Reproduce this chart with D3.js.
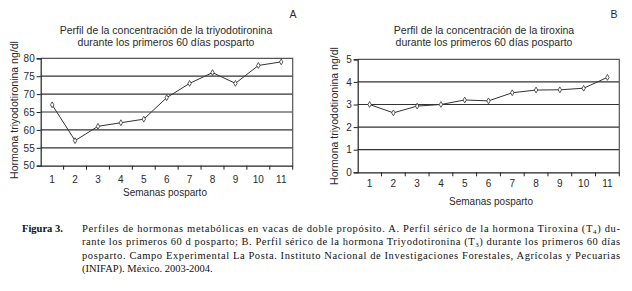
<!DOCTYPE html>
<html><head><meta charset="utf-8">
<script src="https://cdn.jsdelivr.net/npm/d3@7"></script>
<style>body{margin:0;background:#fff}svg{display:block}</style>
</head><body>
<svg id="c" width="632" height="291"></svg>
<script>
const weeks = ["1","2","3","4","5","6","7","8","9","10","11"];
const t3Values = [67, 57, 61, 62, 63, 69, 73, 76, 73, 78, 79];
const t4Values = [3.0, 2.63, 2.93, 3.0, 3.2, 3.16, 3.52, 3.64, 3.65, 3.72, 4.2];
const t3Ticks = [50, 55, 60, 65, 70, 75, 80];
const t4Ticks = [0, 1, 2, 3, 4, 5];

const svg = d3.select("#c");
const FONT = "'Liberation Sans', Arial, sans-serif";
const SERIF = "'Liberation Serif', 'Times New Roman', serif";
const TXT = "#2a2a2a";

function panel(o) {
  const g = svg.append("g");
  const x = d3.scaleBand().domain(weeks).range([o.left, o.right]);
  const y = d3.scaleLinear().domain(o.domain).range([o.bottom, o.top]);
  // gridlines
  g.selectAll("line.grid").data(o.ticks.slice(1, -1)).join("line")
    .attr("x1", o.left).attr("x2", o.right)
    .attr("y1", d => y(d)).attr("y2", d => y(d))
    .attr("stroke", "#333").attr("stroke-width", 1.2);
  // border top/right
  g.append("path").attr("d", `M${o.left},${o.top}H${o.right}V${o.bottom}`)
    .attr("fill", "none").attr("stroke", "#555").attr("stroke-width", 1.2);
  // y axis
  const ya = g.append("g").attr("transform", `translate(${o.left},0)`)
    .call(d3.axisLeft(y).tickValues(o.ticks).tickSize(4).tickPadding(2).tickFormat(d3.format("d")));
  ya.select(".domain").attr("stroke", "#222").attr("stroke-width", 1.2);
  ya.selectAll(".tick line").attr("stroke", "#222");
  ya.selectAll("text").attr("font-family", FONT).attr("font-size", 10).attr("fill", TXT);
  // x axis
  const xa = g.append("g").attr("transform", `translate(0,${o.bottom})`)
    .call(d3.axisBottom(x).tickSize(0).tickPadding(o.xpad));
  xa.select(".domain").attr("stroke", "#222").attr("stroke-width", 1.2);
  xa.selectAll("text").attr("font-family", FONT).attr("font-size", 10).attr("fill", TXT);
  // tick marks at band boundaries
  const bounds = weeks.slice(1).map(w => x(w));
  bounds.push(o.right);
  g.selectAll("line.xt").data(bounds).join("line")
    .attr("x1", d => d).attr("x2", d => d)
    .attr("y1", o.bottom).attr("y2", o.bottom + 4)
    .attr("stroke", "#222");
  // line
  const line = d3.line().x((d, i) => x(weeks[i]) + x.bandwidth() / 2).y(d => y(d));
  g.append("path").datum(o.values).attr("d", line)
    .attr("fill", "none").attr("stroke", "#333").attr("stroke-width", 1);
  g.selectAll("path.m").data(o.values).join("path")
    .attr("d", d3.symbol(d3.symbolDiamond, 10))
    .attr("transform", (d, i) => `translate(${x(weeks[i]) + x.bandwidth() / 2},${y(d)})`)
    .attr("fill", "#fff").attr("stroke", "#333").attr("stroke-width", 0.8);
  // titles
  const cx = (o.left + o.right) / 2;
  g.append("text").attr("x", o.tcx).attr("y", o.t1).attr("text-anchor", "middle")
    .attr("font-family", FONT).attr("font-size", 10.5).attr("fill", TXT).text(o.title1);
  g.append("text").attr("x", o.tcx).attr("y", o.t1 + 12).attr("text-anchor", "middle")
    .attr("font-family", FONT).attr("font-size", 10.5).attr("fill", TXT).text(o.title2);
  g.append("text").attr("x", o.letterX).attr("y", 18).attr("text-anchor", "middle")
    .attr("font-family", FONT).attr("font-size", 10.5).attr("fill", TXT).text(o.letter);
  g.append("text").attr("x", o.xtx).attr("y", o.xty).attr("text-anchor", "middle")
    .attr("font-family", FONT).attr("font-size", 10).attr("fill", TXT).text("Semanas posparto");
  g.append("text").attr("transform", `translate(${o.ylx},${o.yly}) rotate(-90)`)
    .attr("text-anchor", "middle").attr("font-family", FONT).attr("font-size", 10.5)
    .attr("fill", TXT).text("Hormona triyodotironina ng/dl");
}

panel({left: 40.7, right: 292.7, top: 58.3, bottom: 165.7, domain: [50, 80], ticks: t3Ticks,
  values: t3Values, xpad: 10, title1: "Perfil de la concentración de la triyodotironina",
  title2: "durante los primeros 60 días posparto", tcx: 166, t1: 34, letter: "A", letterX: 293,
  xtx: 165, xty: 196, ylx: 17.5, yly: 110});
panel({left: 357.7, right: 619.3, top: 59.3, bottom: 172.3, domain: [0, 5], ticks: t4Ticks,
  values: t4Values, xpad: 8, title1: "Perfil de la concentración de la tiroxina",
  title2: "durante los primeros 60 días posparto", tcx: 484, t1: 34, letter: "B", letterX: 614,
  xtx: 491, xty: 205, ylx: 337.5, yly: 116});

// caption
const cap = svg.append("g").attr("font-family", SERIF).attr("font-size", 10.5).attr("fill", "#111");
cap.append("text").attr("x", 22).attr("y", 231.5).attr("font-weight", "bold").text("Figura 3.");
const L = 82, W = 538;
const l1 = cap.append("text").attr("x", L).attr("y", 231.5).attr("textLength", W).attr("lengthAdjust", "spacing");
l1.append("tspan").text("Perfiles de hormonas metabólicas en vacas de doble propósito. A. Perfil sérico de la hormona Tiroxina (T");
l1.append("tspan").attr("font-size", 7).attr("dy", 2).text("4");
l1.append("tspan").attr("dy", -2).text(") du-");
const l2 = cap.append("text").attr("x", L).attr("y", 245).attr("textLength", W).attr("lengthAdjust", "spacing");
l2.append("tspan").text("rante los primeros 60 d posparto; B. Perfil sérico de la hormona Triyodotironina (T");
l2.append("tspan").attr("font-size", 7).attr("dy", 2).text("3");
l2.append("tspan").attr("dy", -2).text(") durante los primeros 60 días");
cap.append("text").attr("x", L).attr("y", 258.5).attr("textLength", W).attr("lengthAdjust", "spacing")
  .text("posparto.  Campo Experimental La Posta. Instituto Nacional de Investigaciones Forestales, Agrícolas y Pecuarias");
cap.append("text").attr("x", L).attr("y", 272).text("(INIFAP). México. 2003-2004.");
</script>
</body></html>
